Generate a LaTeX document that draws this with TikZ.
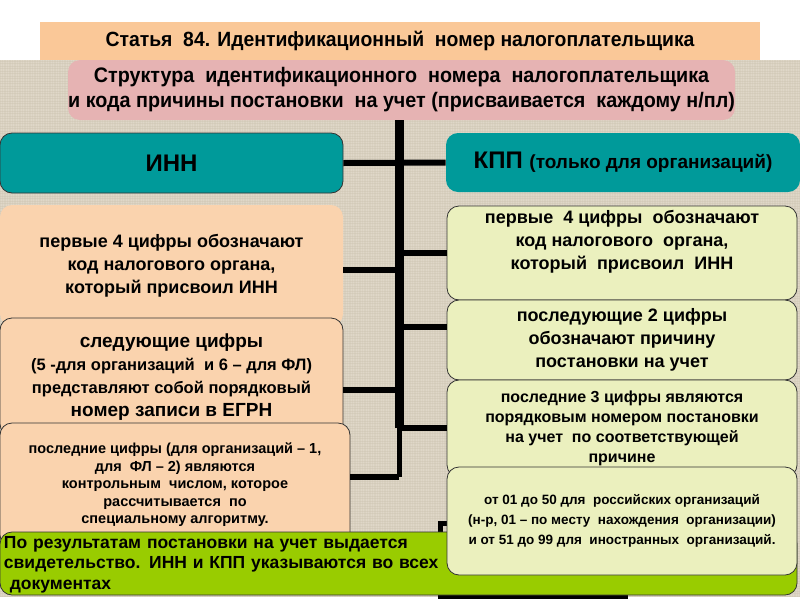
\documentclass[tikz,border=0pt]{standalone}
\usepackage{fontspec}
\setmainfont{Liberation Sans}
\newfontfamily\narrowfont{Liberation Sans}[FakeStretch=0.94]
\usetikzlibrary{positioning}

\definecolor{titleband}{HTML}{FAC898}
\definecolor{pinkbox}{HTML}{E6B3B3}
\definecolor{tealbox}{HTML}{009A9A}
\definecolor{peachbox}{HTML}{FAD3AE}
\definecolor{limebox}{HTML}{EBF0BE}
\definecolor{greenbox}{HTML}{99CC00}
\definecolor{linenbg}{HTML}{D9D1C0}
\definecolor{linenhi}{HTML}{E8E2D4}
\definecolor{linenlo}{HTML}{CBC2AF}

\begin{document}
\begin{tikzpicture}[x=1pt, y=-1pt,
  box/.style={draw=black!80, line width=0.8pt, rounded corners=12pt,
    align=center, inner sep=0pt, font=\bfseries\fontsize{18}{23}\selectfont},
  headbox/.style={box, fill=tealbox, font=\bfseries\fontsize{24}{28}\selectfont},
  innbox/.style={box, fill=peachbox, minimum width=343pt},
  kppbox/.style={box, fill=limebox, minimum width=350pt},
  branch/.style={line width=6pt},
  trunk/.style={line width=9pt},
  linen/.style={line width=0.5pt, opacity=0.4}]

  \useasboundingbox (0,0) rectangle (800,600);

  % linen background
  \fill[linenbg] (0,60) rectangle (800,597);
  \foreach \x in {1,3.5,...,800}
    \draw[linen, draw=linenhi] (\x,60) -- (\x,597);
  \foreach \y in {61,63.5,...,597}
    \draw[linen, draw=linenlo] (0,\y) -- (800,\y);

  % frame peeking out under the bottom boxes
  \draw[line width=5pt] (440,523) rectangle (625,596);

  \coordinate (j1) at (399,270);
  \coordinate (j2) at (399,253);
  \coordinate (j3) at (399,327);
  \coordinate (j4) at (399,390);
  \coordinate (j5) at (399,428);
  \coordinate (j6) at (399,477);

  \node[fill=titleband, minimum width=720pt, minimum height=38pt, inner sep=0pt,
    font=\narrowfont\bfseries\fontsize{20.6}{24}\selectfont] at (400,41) (title)
    {Статья~ 84. Идентификационный~ номер налогоплательщика};
  \node[box, draw=none, fill=pinkbox, minimum width=667pt, minimum height=60pt,
    font=\narrowfont\bfseries\fontsize{21}{25}\selectfont] at (401.5,90) (pink)
    {Структура~ идентификационного~ номера~ налогоплательщика\\
     и кода причины постановки~ на учет (присваивается~ каждому н/пл)};

  \draw[trunk] (pink.south -| j5) -- (j5);
  \draw[line width=5pt] (j5) -- (j6);

  \node[headbox, minimum width=343pt, minimum height=60pt] at (171.5,163) (inn) {ИНН};
  \node[headbox, draw=none, minimum width=354pt, minimum height=59pt] at (623,162.5) (kpp)
    {КПП {\fontsize{19}{22}\selectfont (только для организаций)}};

  \node[innbox, draw=none, minimum height=121pt] at (171.5,265.5) (l1)
    {первые 4 цифры обозначают\\ код налогового органа,\\ который присвоил ИНН};
  \node[innbox, minimum height=118pt, font=\bfseries\fontsize{19}{23}\selectfont]
    at (171.5,377) (l2)
    {следующие цифры\\
     {\fontsize{16.5}{21}\selectfont (5 -для организаций~ и 6 -- для ФЛ)}\\
     {\fontsize{16.5}{21}\selectfont представляют собой порядковый}\\
     номер записи в ЕГРН};
  \node[innbox, minimum width=350pt, minimum height=124pt,
    font=\bfseries\fontsize{14.5}{17.5}\selectfont] at (175,485) (l3)
    {последние цифры (для организаций -- 1,\\ для~ ФЛ -- 2) являются\\
     контрольным~ числом, которое\\ рассчитывается~ по\\ специальному алгоритму.};

  \node[box, fill=greenbox, minimum width=797pt, minimum height=63pt,
    text width=789pt, align=left, font=\bfseries\fontsize{17.5}{20.5}\selectfont]
    at (398.5,563.5) (green)
    {\strut По результатам постановки на учет выдается\\
     свидетельство. ИНН и КПП указываются во всех\\
     \ документах};

  \node[kppbox, minimum height=94pt] at (622,253) (r1) {};
  \node[font=\bfseries\fontsize{18}{23}\selectfont, align=center, inner sep=0pt,
    below=4pt of r1.north] (r1txt)
    {первые~ 4 цифры~ обозначают\\ код налогового~ органа,\\ который~ присвоил~ ИНН};
  \node[kppbox, minimum height=80pt] at (622,340) (r2)
    {последующие 2 цифры\\ обозначают причину\\ постановки на учет};
  \node[kppbox, minimum height=97pt, font=\bfseries\fontsize{16}{20}\selectfont]
    at (622,428.5) (r3)
    {последние 3 цифры являются\\ порядковым номером постановки\\
     на учет~ по соответствующей\\ причине};
  \node[kppbox, minimum height=108pt, font=\bfseries\fontsize{13.5}{20}\selectfont]
    at (622,521) (r4)
    {от 01 до 50 для~ российских организаций\\
     (н-р, 01 -- по месту~ нахождения~ организации)\\
     и от 51 до 99 для~ иностранных~ организаций.};

  \draw[branch] (inn.east) -- (kpp.west);
  \draw[branch] (j1) -- (j1 -| l1.east);
  \draw[branch] (j2) -- (j2 -| r1.west);
  \draw[branch] (j3) -- (j3 -| r2.west);
  \draw[branch] (j4) -- (j4 -| l2.east);
  \draw[branch] (j5) -- (j5 -| r3.west);
  \draw[branch] (j6) -- (j6 -| l3.east);

\end{tikzpicture}
\end{document}
